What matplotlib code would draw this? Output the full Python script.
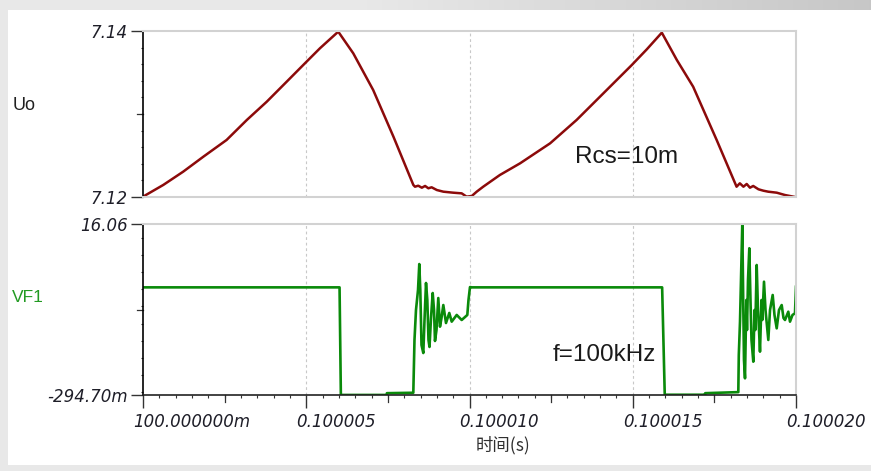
import numpy as np
import matplotlib
matplotlib.use("Agg")
import matplotlib.pyplot as plt
from matplotlib.patches import Rectangle
from matplotlib.ticker import FixedLocator, MultipleLocator
import matplotlib.transforms as mtransforms

# time axis in microseconds after t = 100 ms
time_ticks = [0, 5, 10, 15, 20]
time_labels = ["100.000000m", "0.100005", "0.100010", "0.100015", "0.100020"]

# Uo (output voltage ripple)
t_uo = [0.00, 0.62, 1.23, 1.85, 2.56, 3.18, 3.79, 4.40, 4.96, 5.42, 5.98,
        6.44, 7.05, 7.67, 8.28, 8.33, 8.43, 8.54, 8.64, 8.74, 8.84, 9.00,
        9.20, 9.50, 9.76, 9.91, 10.07, 10.22, 10.42, 10.93, 11.55, 12.47,
        13.28, 14.10, 14.97, 15.43, 15.89, 16.35, 16.85, 17.57, 18.18,
        18.28, 18.39, 18.49, 18.59, 18.69, 18.85, 19.00, 19.15, 19.41,
        19.66, 19.97, 20.00]
uo = [7.12004, 7.12145, 7.12305, 7.12486, 7.12687, 7.12928, 7.13148,
      7.13389, 7.13611, 7.13792, 7.13992, 7.13731, 7.13289, 7.12727,
      7.12145, 7.12124, 7.12136, 7.12112, 7.12133, 7.12105, 7.12117,
      7.12084, 7.12064, 7.12052, 7.12044, 7.12004, 7.12012, 7.12064,
      7.12124, 7.12265, 7.12406, 7.12647, 7.12928, 7.13249, 7.13590,
      7.13779, 7.13980, 7.13651, 7.13329, 7.12687, 7.12124, 7.12165,
      7.12124, 7.12157, 7.12112, 7.12133, 7.12093, 7.12076, 7.12064,
      7.12052, 7.12024, 7.12000, 7.12000]

# VF1 (switch node voltage)
t_vf = [0.00, 6.02, 6.06, 7.46, 7.47,
        8.279, 8.315, 8.361, 8.423, 8.462, 8.493, 8.530, 8.585, 8.622,
        8.668, 8.708, 8.744, 8.775, 8.821, 8.873, 8.913, 8.943, 8.989,
        9.044, 9.096, 9.142, 9.198, 9.280, 9.381, 9.455, 9.608, 9.761,
        9.933, 9.969, 10.015, 10.07,
        15.90, 15.98, 17.21, 17.22,
        18.233, 18.248, 18.285, 18.315, 18.355, 18.383, 18.407, 18.438,
        18.478, 18.499, 18.530, 18.570, 18.606, 18.637, 18.692, 18.729,
        18.753, 18.796, 18.836, 18.867, 18.897, 18.943, 18.968, 19.020,
        19.066, 19.152, 19.204, 19.286, 19.341, 19.409, 19.479, 19.562,
        19.617, 19.663, 19.764, 19.816, 19.893, 19.969, 20.00]
vf1 = [10.0, 10.0, -0.29, -0.29, -0.12,
       -0.08, 4.97, 7.83, 9.75, 12.23, 9.75, 4.49, 3.72, 6.88,
       10.42, 8.79, 4.97, 4.30, 7.07, 9.46, 7.83, 4.87, 5.92,
       8.98, 6.24, 7.07, 8.31, 6.59, 7.55, 6.72, 7.36, 6.88,
       7.36, 8.79, 10.03, 10.0,
       10.0, -0.27, -0.27, -0.12,
       -0.02, 3.53, 6.72, 10.70, 16.06, 8.79, 3.05, 1.30,
       8.79, 5.92, 10.70, 13.74, 8.79, 4.97, 2.89, 7.83,
       5.92, 12.14, 7.83, 5.92, 3.85, 8.79, 6.88, 10.54,
       7.83, 4.97, 7.83, 9.27, 7.36, 6.08, 7.83, 8.31,
       7.07, 6.88, 7.67, 6.72, 7.36, 7.52, 10.06]

uo_ticks = [7.12, 7.14]
uo_labels = ["7.12", "7.14"]
vf_ticks = [-0.2947, 16.06]
vf_labels = ["-294.70m", "16.06"]

W, H = 871, 471
fig = plt.figure(figsize=(W / 100, H / 100), dpi=100)
fig.patch.set_facecolor("#e8e8e8")

# window backdrop: grey frame with a shaded title strip and white page
bg = fig.add_axes([0, 0, 1, 1], zorder=-10)
bg.set_axis_off()
strip = np.ones((1, 256))
xs = np.linspace(0, 1, 256)
strip[0] = np.where(xs < 0.42, 0.91, 0.91 - (xs - 0.42) / 0.58 * 0.13)
bg.imshow(np.dstack([strip] * 3), extent=[0, 1, 1 - 10 / H, 1],
          aspect="auto", vmin=0, vmax=1, interpolation="bilinear")
bg.add_patch(Rectangle((8 / W, 6 / H), 1 - 8 / W, (H - 16) / H,
                       facecolor="white", edgecolor="none"))
bg.set_xlim(0, 1)
bg.set_ylim(0, 1)

left = 143 / W
width = (796 - 143) / W
ax1 = fig.add_axes([left, 1 - 197 / H, width, (197 - 31) / H])
ax2 = fig.add_axes([left, 1 - 395 / H, width, (395 - 224) / H])

tick_font = dict(family="DejaVu Sans", style="italic", size=12)
text_col = "#1e1e28"
grey = "#d2d2d2"

for ax in (ax1, ax2):
    ax.set_facecolor("none")
    ax.set_xlim(time_ticks[0], time_ticks[-1])
    ax.spines["left"].set_color("black")
    ax.spines["left"].set_linewidth(1.2)
    for s in ("top", "right"):
        ax.spines[s].set_color(grey)
        ax.spines[s].set_linewidth(1.5)
    for xv in time_ticks[1:-1]:
        ax.axvline(xv, color="#c8c8c8", lw=0.8, ls=(0, (2.5, 2.5)), zorder=0)
    ax.yaxis.set_major_locator(FixedLocator([]))
    ax.tick_params(axis="y", which="major", length=8.6, width=1.0,
                   color="#333333", pad=2.5, labelcolor=text_col)
    ax.tick_params(axis="y", which="minor", length=1.8, width=0.8,
                   color="#333333")

# top panel: Uo
ax1.plot(t_uo, uo, color="#8c0a0a", lw=1.8, solid_joinstyle="round")
ax1.set_ylim(uo_ticks[0], uo_ticks[-1])
ax1.set_yticks(uo_ticks)
ax1.set_yticklabels(uo_labels, fontdict=tick_font)
ax1.yaxis.set_minor_locator(MultipleLocator(0.002))
ax1.spines["bottom"].set_color(grey)
ax1.spines["bottom"].set_linewidth(1.5)
ax1.set_xticks([])
ax1.text(0.74, 0.24, "Rcs=10m", transform=ax1.transAxes, ha="center",
         va="center", family="Liberation Sans", size=17.5, color="#1a1a1a")

# bottom panel: VF1
ax2.plot(t_vf, vf1, color="#0a8a0a", lw=1.9, solid_joinstyle="round")
ax2.set_ylim(vf_ticks[0], vf_ticks[-1])
ax2.set_yticks(vf_ticks)
ax2.set_yticklabels(vf_labels, fontdict=tick_font)
ax2.yaxis.set_minor_locator(MultipleLocator((vf_ticks[1] - vf_ticks[0]) / 10))
ax2.spines["bottom"].set_color("#222222")
ax2.spines["bottom"].set_linewidth(1.2)
ax2.set_xticks(time_ticks)
ax2.set_xticklabels(time_labels, fontdict=tick_font)
ax2.xaxis.set_minor_locator(MultipleLocator(0.5))
ax2.tick_params(axis="x", which="major", length=9.4, width=1.0,
                color="#333333", pad=3.5, labelcolor=text_col)
ax2.tick_params(axis="x", which="minor", length=2.5, width=0.8,
                color="#333333")
shift = mtransforms.ScaledTranslation(-10 / 100, 0, fig.dpi_scale_trans)
for lab in ax2.get_xticklabels():
    lab.set_horizontalalignment("left")
    lab.set_transform(lab.get_transform() + shift)
ax2.text(0.707, 0.234, "f=100kHz", transform=ax2.transAxes, ha="center",
         va="center", family="Liberation Sans", size=17.5, color="#1a1a1a")

# mid-decade ticks are drawn a little longer
for ax, mids in ((ax1, [7.13]), (ax2, [(vf_ticks[0] + vf_ticks[1]) / 2])):
    for yv in mids:
        ax.plot([-0.17, 0], [yv, yv], color="#333333", lw=0.9,
                transform=mtransforms.blended_transform_factory(
                    ax.transData, ax.transData), clip_on=False)
for xv in [2.5, 7.5, 12.5, 17.5]:
    ax2.plot([xv, xv], [0, -0.04], color="#333333", lw=0.9,
             transform=mtransforms.blended_transform_factory(
                 ax2.transData, ax2.transAxes), clip_on=False)

fig.text(13 / W, 1 - 106 / H, "Uo", ha="left", va="center",
         family="Liberation Sans", size=13, color="#202020")
fig.text(12 / W, 1 - 298 / H, "VF1", ha="left", va="center",
         family="Liberation Sans", size=12.5, color="#229a22")
fig.text(503 / W, 1 - 445 / H, "时间(s)", ha="center", va="center",
         family=["Noto Sans CJK SC", "DejaVu Sans"], size=12.5,
         color="#303030")

fig.savefig("out.png", dpi=100, facecolor=fig.get_facecolor())
